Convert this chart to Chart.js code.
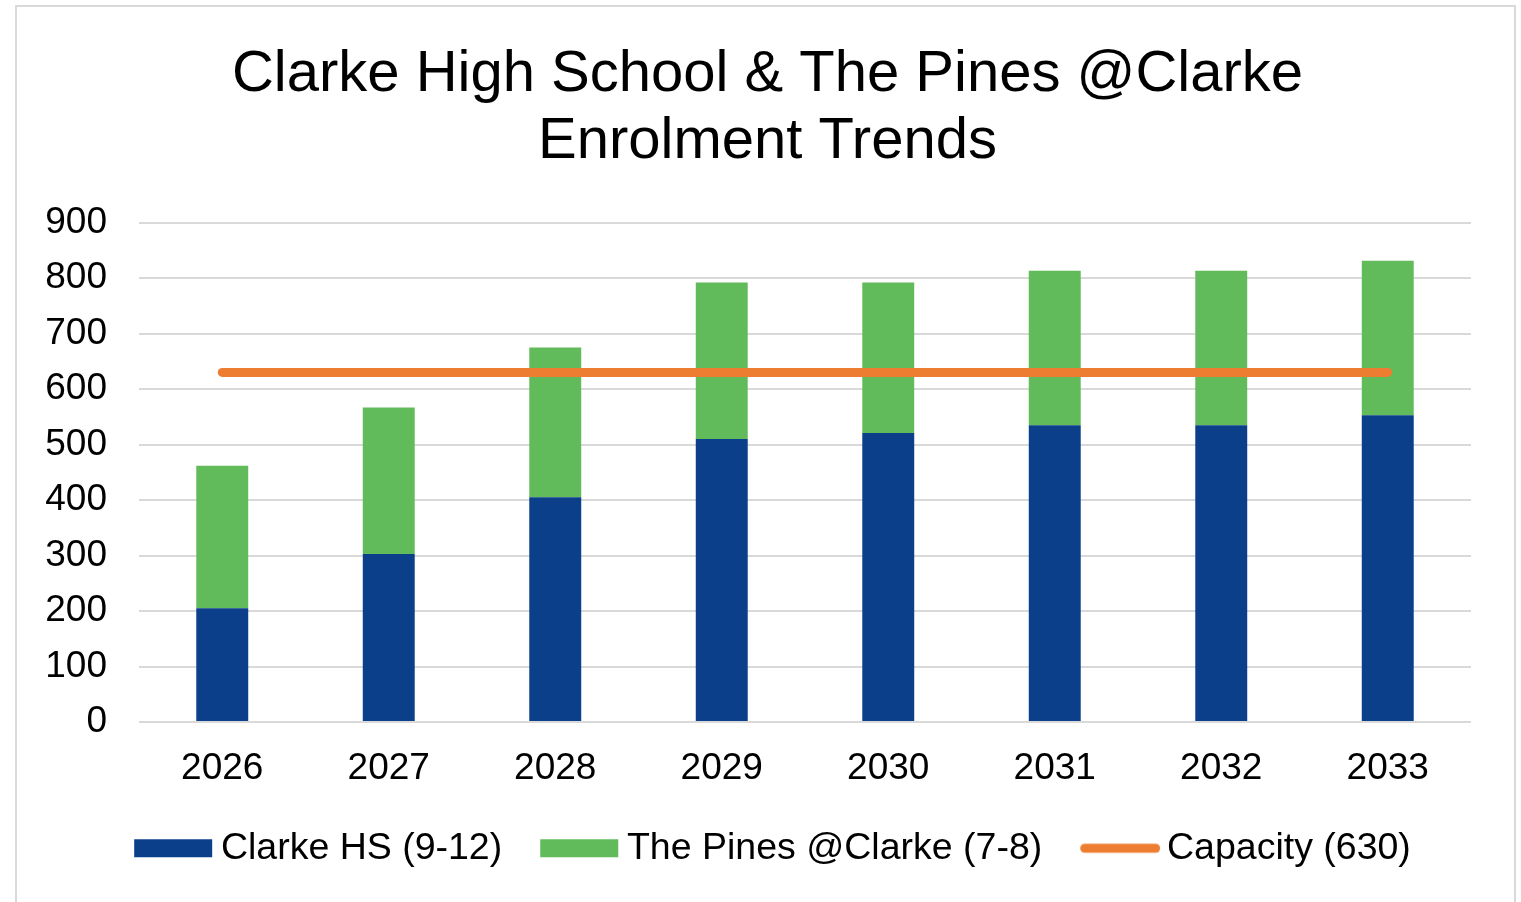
<!DOCTYPE html>
<html>
<head>
<meta charset="utf-8">
<script src="https://cdn.jsdelivr.net/npm/chart.js@4.4.1/dist/chart.umd.min.js"></script>
<style>
  html, body { margin: 0; padding: 0; background: #ffffff; }
  body { width: 1521px; height: 902px; overflow: hidden; position: relative; }
  #frame { position: absolute; left: 15px; top: 5px; width: 1501px; height: 940px;
           border: 2px solid #d9d9d9; box-sizing: border-box; }
  #wrap { position: absolute; left: 0; top: 0; width: 1521px; height: 902px; }
</style>
</head>
<body>
<div id="frame"></div>
<div id="wrap"><canvas id="c" width="1521" height="902"></canvas></div>
<script>
const categories = ['2026', '2027', '2028', '2029', '2030', '2031', '2032', '2033'];
const clarkeHS = [205, 303, 405, 510, 521, 535, 535, 553];
const pinesAtClarke = [257, 264, 270, 282, 271, 278, 278, 278];
const capacity = [630, 630, 630, 630, 630, 630, 630, 630];
const yTicks = [0, 100, 200, 300, 400, 500, 600, 700, 800, 900];
const seriesLabels = ['Clarke HS (9-12)', 'The Pines @Clarke (7-8)', 'Capacity (630)'];
const titleLines = ['Clarke High School & The Pines @Clarke', 'Enrolment Trends'];

const FONT = "'Liberation Sans', Arial, sans-serif";
const BLUE = '#0B3F8A';
const GREEN = '#62BB5A';
const ORANGE = '#ED7D31';

// Legend sample images: sample starts at the item's left edge and may be longer
// than the reserved box width so the label sits close to the sample.
const LEG_BOX = 68, LEG_SAMPLE = 78, LEG_LINE = 80;
const LEG_IMG_W = 2 * Math.max(LEG_BOX / 2, LEG_LINE - LEG_BOX / 2);
const LEG_OFF = LEG_IMG_W / 2 - LEG_BOX / 2;
function legendSample(kind, color) {
  const cv = document.createElement('canvas');
  cv.width = LEG_IMG_W; cv.height = 20;
  const g = cv.getContext('2d');
  if (kind === 'line') {
    g.strokeStyle = color; g.lineWidth = 9; g.lineCap = 'round';
    g.beginPath(); g.moveTo(LEG_OFF + 4.5, 10); g.lineTo(LEG_OFF + LEG_LINE - 4.5, 10); g.stroke();
  } else {
    g.fillStyle = color; g.fillRect(LEG_OFF, 1, LEG_SAMPLE, 18);
  }
  return cv;
}

const legendShift = {
  id: 'legendShift',
  afterLayout(chart) {
    if (chart.legend) { chart.legend.left += 5; chart.legend.right += 5; }
  }
};

const ctx = document.getElementById('c').getContext('2d');
new Chart(ctx, {
  type: 'bar',
  data: {
    labels: categories,
    datasets: [
      { type: 'bar', label: seriesLabels[0], data: clarkeHS, backgroundColor: BLUE,
        borderWidth: 0, stack: 'enrol', barPercentage: 0.312, categoryPercentage: 1, order: 2 },
      { type: 'bar', label: seriesLabels[1], data: pinesAtClarke, backgroundColor: GREEN,
        borderWidth: 0, stack: 'enrol', barPercentage: 0.312, categoryPercentage: 1, order: 2 },
      { type: 'line', label: seriesLabels[2], data: capacity, borderColor: ORANGE, backgroundColor: ORANGE,
        borderWidth: 9, borderCapStyle: 'round', pointRadius: 0, pointHoverRadius: 0,
        fill: false, stack: 'cap', order: 1 }
    ]
  },
  plugins: [legendShift],
  options: {
    responsive: false,
    animation: false,
    devicePixelRatio: 1,
    layout: { padding: { left: 14, right: 0, top: 10, bottom: 25 } },
    plugins: {
      title: {
        display: true,
        text: titleLines,
        color: '#000000',
        font: { family: FONT, size: 58, weight: 'normal', lineHeight: 1.16 },
        padding: { top: 31, bottom: 47 }
      },
      legend: {
        position: 'bottom',
        labels: {
          usePointStyle: true,
          pointStyleWidth: LEG_BOX,
          boxHeight: 18,
          padding: 38,
          color: '#000000',
          font: { family: FONT, size: 37.5 },
          sort: (a, b) => a.datasetIndex - b.datasetIndex,
          generateLabels(chart) {
            const items = Chart.defaults.plugins.legend.labels.generateLabels(chart);
            items.forEach(it => {
              const ds = chart.data.datasets[it.datasetIndex];
              if (ds.type === 'line') {
                it.pointStyle = legendSample('line', ds.borderColor);
              } else {
                it.pointStyle = legendSample('rect', ds.backgroundColor);
              }
              it.lineWidth = 0;
              it.rotation = 0;
            });
            return items;
          }
        }
      },
      tooltip: { enabled: false }
    },
    scales: {
      x: {
        stacked: true,
        grid: { display: false, drawTicks: false },
        border: { display: false },
        ticks: { color: '#000000', font: { family: FONT, size: 37 }, padding: 24,
                 maxRotation: 0, autoSkip: false },
        afterFit(scale) { scale.height = scale.height - 23; }
      },
      y: {
        stacked: true,
        min: yTicks[0],
        max: yTicks[yTicks.length - 1],
        afterBuildTicks(scale) { scale.ticks = yTicks.map(v => ({ value: v })); },
        grid: { color: '#d9d9d9', lineWidth: 2, drawTicks: false },
        border: { display: false },
        ticks: { color: '#000000', font: { family: FONT, size: 37 }, padding: 32 },
        afterFit(scale) { scale.width = 125; }
      },
      yR: {
        position: 'right',
        display: true,
        grid: { display: false, drawTicks: false },
        border: { display: false },
        ticks: { display: false },
        afterFit(scale) { scale.width = 50; }
      }
    }
  }
});
</script>
</body>
</html>
